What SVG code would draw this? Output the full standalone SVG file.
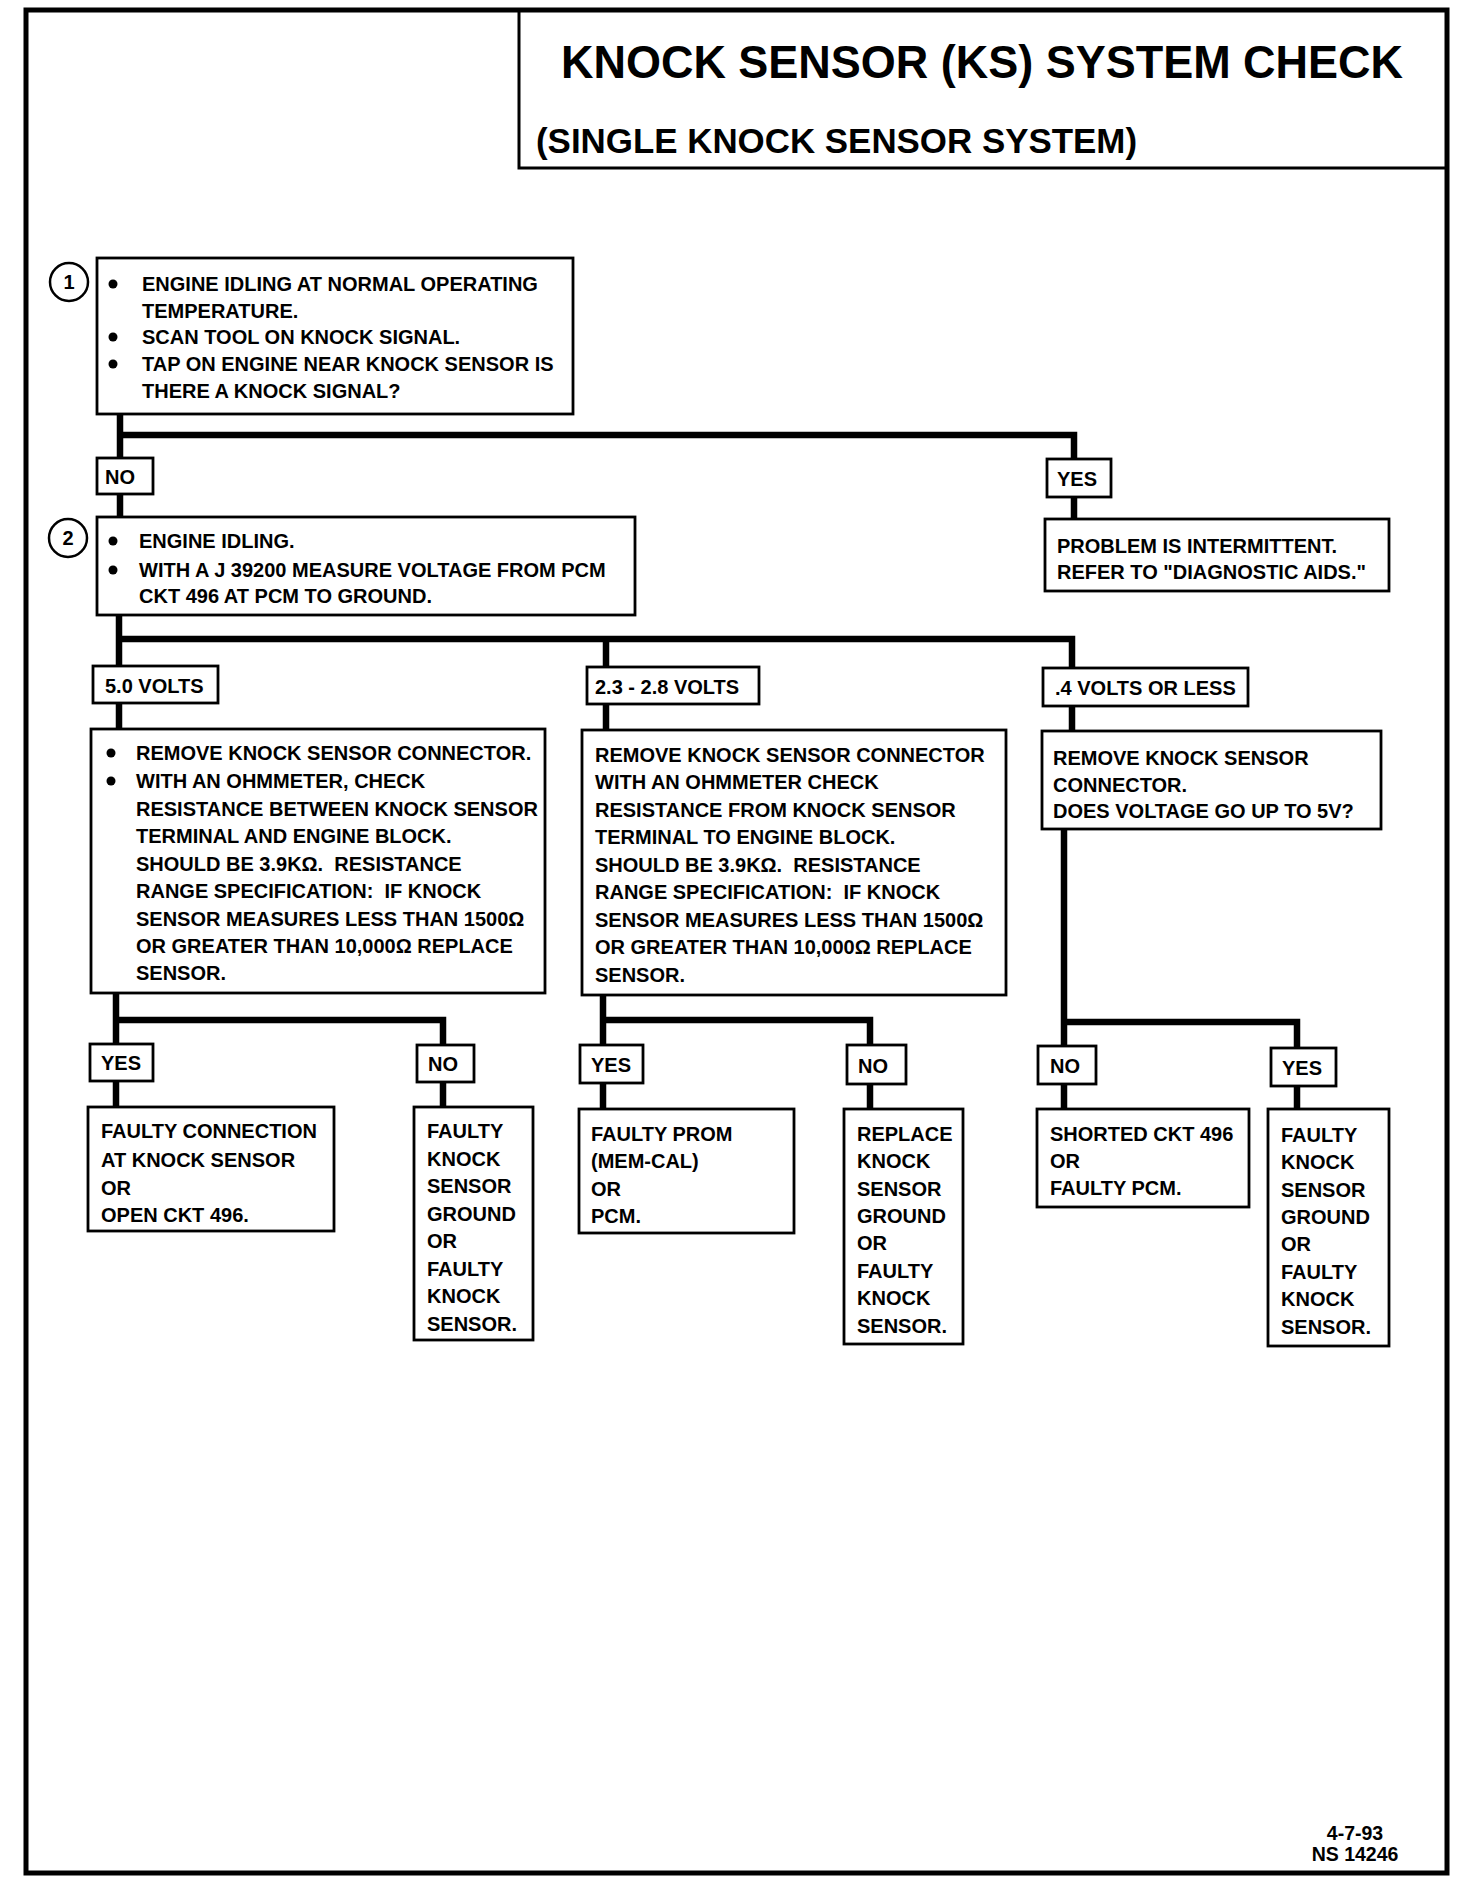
<svg xmlns="http://www.w3.org/2000/svg" width="1472" height="1880" viewBox="0 0 1472 1880">
<style>
.t{font-family:"Liberation Sans",Arial,sans-serif;font-weight:bold;font-size:20px;fill:#000}
.box{fill:#fff;stroke:#000;stroke-width:2.8}
.conn{fill:none;stroke:#000;stroke-width:6.5;stroke-linejoin:miter;stroke-linecap:butt}
.b{fill:#000}
.num{font-family:"Liberation Sans",Arial,sans-serif;font-weight:bold;font-size:20px;text-anchor:middle}
</style>
<rect x="0" y="0" width="1472" height="1880" fill="#fff"/>
<g id="frame">
<rect x="26" y="10" width="1421" height="1863" fill="none" stroke="#000" stroke-width="5"/>
</g>
<g id="title">
<path d="M519,12 V168 H1447" fill="none" stroke="#000" stroke-width="3"/>
<text x="561" y="78" style="font-family:'Liberation Sans',Arial,sans-serif;font-weight:bold;font-size:46px" textLength="842" lengthAdjust="spacingAndGlyphs">KNOCK SENSOR (KS) SYSTEM CHECK</text>
<text x="536" y="153" style="font-family:'Liberation Sans',Arial,sans-serif;font-weight:bold;font-size:35px" textLength="601" lengthAdjust="spacingAndGlyphs">(SINGLE KNOCK SENSOR SYSTEM)</text>
</g>
<g id="connectors">
<path class="conn" d="M120,414 V517 M120,435 H1074 V519"/>
<path class="conn" d="M119,615 V729 M119,639 H1072 V731 M606,639 V730"/>
<path class="conn" d="M116,993 V1107 M116,1020 H443 V1107"/>
<path class="conn" d="M603,995 V1109 M603,1020 H870 V1109"/>
<path class="conn" d="M1064,829 V1109 M1064,1022 H1297 V1109"/>
</g>
<g id="step1">
<circle cx="69" cy="282" r="19" fill="#fff" stroke="#000" stroke-width="2.5"/>
<text class="num" x="69" y="289">1</text>
<rect class="box" x="97" y="258" width="476" height="156"/>
<circle class="b" cx="113" cy="284" r="4.5"/>
<circle class="b" cx="113" cy="337" r="4.5"/>
<circle class="b" cx="113" cy="364" r="4.5"/>
<text class="t" x="142" y="291">ENGINE IDLING AT NORMAL OPERATING</text>
<text class="t" x="142" y="318">TEMPERATURE.</text>
<text class="t" x="142" y="344">SCAN TOOL ON KNOCK SIGNAL.</text>
<text class="t" x="142" y="371">TAP ON ENGINE NEAR KNOCK SENSOR IS</text>
<text class="t" x="142" y="398">THERE A KNOCK SIGNAL?</text>
</g>
<g id="lbl-no1"><rect class="box" x="97" y="458" width="56" height="36"/><text class="t" x="105" y="484">NO</text></g>
<g id="lbl-yes1"><rect class="box" x="1047" y="459" width="64" height="38"/><text class="t" x="1057" y="486">YES</text></g>
<g id="intermittent">
<rect class="box" x="1045" y="519" width="344" height="72"/>
<text class="t" x="1057" y="553">PROBLEM IS INTERMITTENT.</text>
<text class="t" x="1057" y="579">REFER TO "DIAGNOSTIC AIDS."</text>
</g>
<g id="step2">
<circle cx="68" cy="538" r="19" fill="#fff" stroke="#000" stroke-width="2.5"/>
<text class="num" x="68" y="545">2</text>
<rect class="box" x="97" y="517" width="538" height="98"/>
<circle class="b" cx="113" cy="541" r="4.5"/>
<circle class="b" cx="113" cy="570" r="4.5"/>
<text class="t" x="139" y="548">ENGINE IDLING.</text>
<text class="t" x="139" y="577">WITH A J 39200 MEASURE VOLTAGE FROM PCM</text>
<text class="t" x="139" y="603">CKT 496 AT PCM TO GROUND.</text>
</g>
<g id="lbl-5v"><rect class="box" x="93" y="666" width="125" height="37"/><text class="t" x="105" y="693">5.0 VOLTS</text></g>
<g id="lbl-23v"><rect class="box" x="587" y="667" width="172" height="37"/><text class="t" x="595" y="694">2.3 - 2.8 VOLTS</text></g>
<g id="lbl-04v"><rect class="box" x="1043" y="668" width="205" height="38"/><text class="t" x="1055" y="695">.4 VOLTS OR LESS</text></g>
<g id="check5v">
<rect class="box" x="91" y="729" width="454" height="264"/>
<circle class="b" cx="111" cy="753" r="4.5"/>
<circle class="b" cx="111" cy="781" r="4.5"/>
<text class="t" x="136" y="760">REMOVE KNOCK SENSOR CONNECTOR.</text>
<text class="t" x="136" y="788">WITH AN OHMMETER, CHECK</text>
<text class="t" x="136" y="816">RESISTANCE BETWEEN KNOCK SENSOR</text>
<text class="t" x="136" y="843">TERMINAL AND ENGINE BLOCK.</text>
<text class="t" x="136" y="871" xml:space="preserve">SHOULD BE 3.9KΩ.  RESISTANCE</text>
<text class="t" x="136" y="898" xml:space="preserve">RANGE SPECIFICATION:  IF KNOCK</text>
<text class="t" x="136" y="926">SENSOR MEASURES LESS THAN 1500Ω</text>
<text class="t" x="136" y="953">OR GREATER THAN 10,000Ω REPLACE</text>
<text class="t" x="136" y="980">SENSOR.</text>
</g>
<g id="check23v">
<rect class="box" x="582" y="730" width="424" height="265"/>
<text class="t" x="595" y="762">REMOVE KNOCK SENSOR CONNECTOR</text>
<text class="t" x="595" y="789">WITH AN OHMMETER CHECK</text>
<text class="t" x="595" y="817">RESISTANCE FROM KNOCK SENSOR</text>
<text class="t" x="595" y="844">TERMINAL TO ENGINE BLOCK.</text>
<text class="t" x="595" y="872" xml:space="preserve">SHOULD BE 3.9KΩ.  RESISTANCE</text>
<text class="t" x="595" y="899" xml:space="preserve">RANGE SPECIFICATION:  IF KNOCK</text>
<text class="t" x="595" y="927">SENSOR MEASURES LESS THAN 1500Ω</text>
<text class="t" x="595" y="954">OR GREATER THAN 10,000Ω REPLACE</text>
<text class="t" x="595" y="982">SENSOR.</text>
</g>
<g id="check04v">
<rect class="box" x="1042" y="731" width="339" height="98"/>
<text class="t" x="1053" y="765">REMOVE KNOCK SENSOR</text>
<text class="t" x="1053" y="792">CONNECTOR.</text>
<text class="t" x="1053" y="818">DOES VOLTAGE GO UP TO 5V?</text>
</g>
<g id="lbl-yesA"><rect class="box" x="90" y="1044" width="63" height="37"/><text class="t" x="101" y="1070">YES</text></g>
<g id="lbl-noB"><rect class="box" x="417" y="1045" width="57" height="37"/><text class="t" x="428" y="1071">NO</text></g>
<g id="lbl-yesC"><rect class="box" x="580" y="1045" width="63" height="38"/><text class="t" x="591" y="1072">YES</text></g>
<g id="lbl-noD"><rect class="box" x="847" y="1045" width="59" height="39"/><text class="t" x="858" y="1073">NO</text></g>
<g id="lbl-noE"><rect class="box" x="1038" y="1046" width="58" height="38"/><text class="t" x="1050" y="1073">NO</text></g>
<g id="lbl-yesF"><rect class="box" x="1271" y="1048" width="65" height="38"/><text class="t" x="1282" y="1075">YES</text></g>
<g id="resultA">
<rect class="box" x="88" y="1107" width="246" height="124"/>
<text class="t" x="101" y="1138">FAULTY CONNECTION</text>
<text class="t" x="101" y="1167">AT KNOCK SENSOR</text>
<text class="t" x="101" y="1195">OR</text>
<text class="t" x="101" y="1222">OPEN CKT 496.</text>
</g>
<g id="resultB">
<rect class="box" x="414" y="1107" width="119" height="233"/>
<text class="t" x="427" y="1138">FAULTY</text>
<text class="t" x="427" y="1166">KNOCK</text>
<text class="t" x="427" y="1193">SENSOR</text>
<text class="t" x="427" y="1221">GROUND</text>
<text class="t" x="427" y="1248">OR</text>
<text class="t" x="427" y="1276">FAULTY</text>
<text class="t" x="427" y="1303">KNOCK</text>
<text class="t" x="427" y="1331">SENSOR.</text>
</g>
<g id="resultC">
<rect class="box" x="579" y="1109" width="215" height="124"/>
<text class="t" x="591" y="1141">FAULTY PROM</text>
<text class="t" x="591" y="1168">(MEM-CAL)</text>
<text class="t" x="591" y="1196">OR</text>
<text class="t" x="591" y="1223">PCM.</text>
</g>
<g id="resultD">
<rect class="box" x="844" y="1109" width="119" height="235"/>
<text class="t" x="857" y="1141">REPLACE</text>
<text class="t" x="857" y="1168">KNOCK</text>
<text class="t" x="857" y="1196">SENSOR</text>
<text class="t" x="857" y="1223">GROUND</text>
<text class="t" x="857" y="1250">OR</text>
<text class="t" x="857" y="1278">FAULTY</text>
<text class="t" x="857" y="1305">KNOCK</text>
<text class="t" x="857" y="1333">SENSOR.</text>
</g>
<g id="resultE">
<rect class="box" x="1037" y="1109" width="212" height="98"/>
<text class="t" x="1050" y="1141">SHORTED CKT 496</text>
<text class="t" x="1050" y="1168">OR</text>
<text class="t" x="1050" y="1195">FAULTY PCM.</text>
</g>
<g id="resultF">
<rect class="box" x="1268" y="1109" width="121" height="237"/>
<text class="t" x="1281" y="1142">FAULTY</text>
<text class="t" x="1281" y="1169">KNOCK</text>
<text class="t" x="1281" y="1197">SENSOR</text>
<text class="t" x="1281" y="1224">GROUND</text>
<text class="t" x="1281" y="1251">OR</text>
<text class="t" x="1281" y="1279">FAULTY</text>
<text class="t" x="1281" y="1306">KNOCK</text>
<text class="t" x="1281" y="1334">SENSOR.</text>
</g>
<g id="footer">
<text class="t" x="1355" y="1840" text-anchor="middle" style="font-size:19.5px">4-7-93</text>
<text class="t" x="1355" y="1861" text-anchor="middle" style="font-size:19.5px">NS 14246</text>
</g>
</svg>
